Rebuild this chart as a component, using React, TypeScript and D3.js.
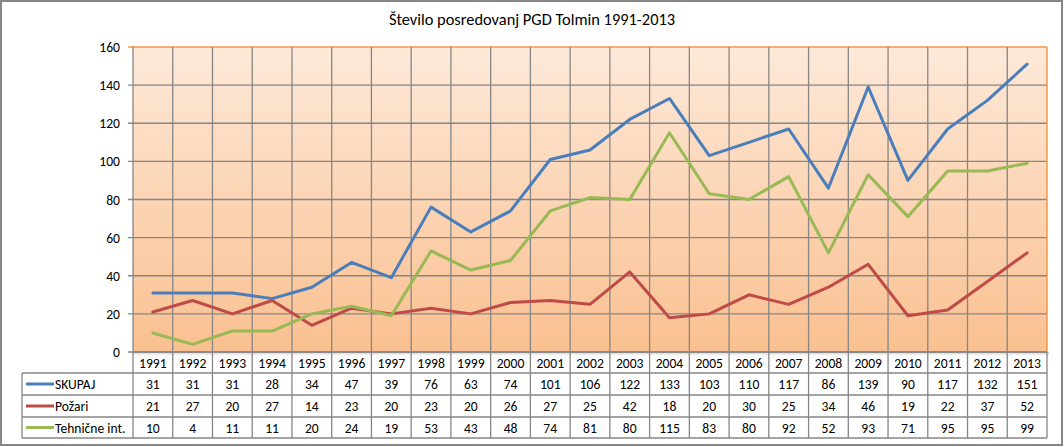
import React from "react";
import * as d3 from "d3";

const years = ["1991","1992","1993","1994","1995","1996","1997","1998","1999","2000","2001","2002","2003","2004","2005","2006","2007","2008","2009","2010","2011","2012","2013"];
const skupaj = [31,31,31,28,34,47,39,76,63,74,101,106,122,133,103,110,117,86,139,90,117,132,151];
const pozari = [21,27,20,27,14,23,20,23,20,26,27,25,42,18,20,30,25,34,46,19,22,37,52];
const tehnicne = [10,4,11,11,20,24,19,53,43,48,74,81,80,115,83,80,92,52,93,71,95,95,99];
const yTicks = [0,20,40,60,80,100,120,140,160];

const series = [
  { name: "SKUPAJ", values: skupaj, color: "#4a7ebb" },
  { name: "Požari", values: pozari, color: "#be4b48" },
  { name: "Tehnične int.", values: tehnicne, color: "#98b954" },
];

export default function App() {
  const W = 1064, H = 447;
  const left = 133, right = 1047, top = 47, bottom = 352;
  const tableLeft = 22;
  const rowH = [352, 373, 395, 417, 438];
  const x = d3.scaleBand<string>().domain(years).range([left, right]);
  const y = d3.scaleLinear().domain([0, 160]).range([bottom, top]);
  const line = (vals: number[]) =>
    d3.line<number>().x((_, i) => (x(years[i]) as number) + x.bandwidth() / 2).y(d => y(d))(vals) as string;
  const font = "Carlito, Lato, 'Open Sans', sans-serif";
  const grid = "#868686";
  const fs = 13.6;
  return (
    <svg width={W} height={H} style={{ position: "absolute", left: 0, top: 0, fontFamily: font }}>
      <defs>
        <linearGradient id="bg" x1="0" y1="0" x2="0" y2="1">
          <stop offset="0" stopColor="#fde9d9" />
          <stop offset="1" stopColor="#fac090" />
        </linearGradient>
        <linearGradient id="sh" x1="0" y1="0" x2="0" y2="1">
          <stop offset="0" stopColor="#999" stopOpacity="0.6" />
          <stop offset="1" stopColor="#fff" stopOpacity="0" />
        </linearGradient>
      </defs>
      <rect x={0} y={0} width={W} height={H} fill="#fff" />
      <rect x={1} y={1} width={1061} height={444} fill="#fff" stroke="#878787" strokeWidth={2} />
      <text x={532} y={25} textAnchor="middle" fontSize={16.4} fill="#000">Število posredovanj PGD Tolmin 1991-2013</text>
      <rect x={left} y={top} width={right - left} height={bottom - top} fill="url(#bg)" />
      <rect x={left} y={bottom} width={right - left + 2} height={5} fill="url(#sh)" />
      {yTicks.map(t => (
        <g key={t}>
          <line x1={left - 5} x2={right} y1={y(t)} y2={y(t)} stroke={t === 160 ? "#f79646" : grid} strokeWidth={t === 160 ? 1.5 : 1.3} />
          <text x={120} y={y(t) + 5} textAnchor="end" fontSize={fs} fill="#000">{t}</text>
        </g>
      ))}
      {years.map((yr) => (
        <line key={yr} x1={x(yr) as number} x2={x(yr) as number} y1={top} y2={rowH[4]} stroke={grid} strokeWidth={1.3} />
      ))}
      <line x1={right} x2={right} y1={top} y2={bottom} stroke="#f79646" strokeWidth={1.5} />
      <line x1={right} x2={right} y1={bottom} y2={rowH[4]} stroke={grid} strokeWidth={1.3} />
      <line x1={left} x2={right} y1={bottom} y2={bottom} stroke={grid} strokeWidth={1.3} />
      {rowH.slice(1).map(r => (
        <line key={r} x1={tableLeft} x2={right} y1={r} y2={r} stroke={grid} strokeWidth={1.3} />
      ))}
      <line x1={tableLeft} x2={tableLeft} y1={rowH[1]} y2={rowH[4]} stroke={grid} strokeWidth={1.3} />
      {series.map(s => (
        <path key={s.name} d={line(s.values)} fill="none" stroke={s.color} strokeWidth={3} strokeLinejoin="round" strokeLinecap="round" />
      ))}
      {years.map(yr => (
        <text key={yr} x={(x(yr) as number) + x.bandwidth() / 2} y={(rowH[0] + rowH[1]) / 2 + 5} textAnchor="middle" fontSize={fs} fill="#000">{yr}</text>
      ))}
      {series.map((s, si) => {
        const cy = (rowH[si + 1] + rowH[si + 2]) / 2;
        return (
          <g key={s.name}>
            <line x1={tableLeft + 4} x2={tableLeft + 32} y1={cy} y2={cy} stroke={s.color} strokeWidth={3} />
            <text x={tableLeft + 33} y={cy + 5} fontSize={fs} fill="#000">{s.name}</text>
            {s.values.map((v, i) => (
              <text key={i} x={(x(years[i]) as number) + x.bandwidth() / 2} y={cy + 5} textAnchor="middle" fontSize={fs} fill="#000">{v}</text>
            ))}
          </g>
        );
      })}
    </svg>
  );
}
